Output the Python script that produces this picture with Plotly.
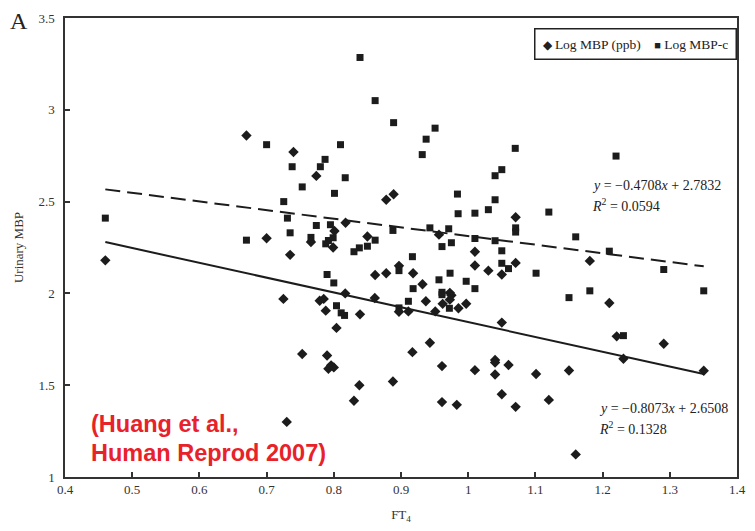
import plotly.graph_objects as go

# ---- data ----
ppb_x = [0.46, 0.67, 0.70, 0.74, 0.735, 0.725, 0.753, 0.73, 0.774, 0.889,
         0.878, 0.801, 0.8175, 0.766, 0.799, 0.850, 0.9565, 0.897, 0.8615, 0.878,
         0.918, 0.932, 0.817, 0.861, 0.779, 0.785, 0.937, 0.962, 0.788, 0.839,
         0.897, 0.911, 0.804, 0.790, 0.792, 0.796, 0.800, 0.838, 0.888, 0.917,
         0.83, 1.0706, 1.010, 1.010, 1.030, 1.0706, 1.050, 0.9727, 0.975, 0.9727,
         0.997, 0.9855, 0.951, 1.050, 0.943, 0.961, 1.010, 1.040, 1.040, 1.040,
         1.060, 1.101, 1.150, 0.961, 0.983, 1.050, 1.0706, 1.120, 1.160, 1.181,
         1.210, 1.221, 1.291, 1.231, 1.3505]
ppb_y = [2.18, 2.86, 2.30, 2.77, 2.21, 1.97, 1.67, 1.30, 2.64, 2.54,
         2.51, 2.34, 2.385, 2.28, 2.25, 2.31, 2.32, 2.15, 2.10, 2.11,
         2.11, 2.05, 2.00, 1.975, 1.96, 1.97, 1.957, 1.943, 1.906, 1.886,
         1.90, 1.902, 1.812, 1.662, 1.59, 1.608, 1.597, 1.50, 1.52, 1.68,
         1.415, 2.415, 2.227, 2.152, 2.124, 2.166, 2.103, 2.003, 1.99, 1.966,
         1.944, 1.919, 1.902, 1.841, 1.731, 1.604, 1.582, 1.637, 1.624, 1.558,
         1.61, 1.561, 1.58, 1.408, 1.393, 1.451, 1.382, 1.42, 1.123, 2.177,
         1.948, 1.766, 1.726, 1.644, 1.579]

mbpc_x = [0.46, 0.67, 0.70, 0.738, 0.753, 0.7255, 0.731, 0.735, 0.839, 0.8615,
          0.889, 0.810, 0.787, 0.780, 0.817, 0.801, 0.9374, 0.9316, 0.9507, 0.774,
          0.795, 0.766, 0.799, 0.792, 0.788, 0.8615, 0.850, 0.838, 0.830, 0.888,
          0.943, 0.961, 0.917, 0.897, 0.9565, 0.918, 0.961, 0.790, 0.800, 0.804,
          0.911, 0.897, 0.811, 0.816, 1.070, 1.050, 1.040, 0.984, 1.040, 0.985,
          1.010, 1.030, 1.120, 1.0706, 1.0706, 0.971, 0.975, 1.010, 1.040, 1.050,
          1.050, 1.060, 1.101, 0.973, 0.997, 1.010, 0.961, 1.150, 0.972, 1.160,
          1.210, 1.291, 1.181, 1.231, 1.3505, 1.220]
mbpc_y = [2.41, 2.29, 2.81, 2.69, 2.58, 2.50, 2.41, 2.33, 3.285, 3.05,
          2.93, 2.81, 2.73, 2.69, 2.63, 2.545, 2.84, 2.756, 2.90, 2.37,
          2.374, 2.305, 2.303, 2.288, 2.27, 2.29, 2.257, 2.248, 2.227, 2.343,
          2.357, 2.255, 2.20, 2.124, 2.074, 2.026, 2.006, 2.103, 2.057, 1.933,
          1.957, 1.921, 1.894, 1.88, 2.79, 2.674, 2.641, 2.541, 2.51, 2.434,
          2.437, 2.456, 2.443, 2.357, 2.334, 2.352, 2.276, 2.299, 2.287, 2.232,
          2.164, 2.135, 2.11, 2.11, 2.066, 2.026, 1.993, 1.977, 1.919, 2.308,
          2.23, 2.13, 2.014, 1.77, 2.014, 2.748]

series_names = ["Log MBP (ppb)", "Log MBP-c"]
legend_glyphs = ["\u25C6", "\u25A0"]
slopes = [-0.8073, -0.4708]
intercepts = [2.6508, 2.7832]
r2_values = [0.1328, 0.0594]

x_ticks = [0.4, 0.5, 0.6, 0.7, 0.8, 0.9, 1.0, 1.1, 1.2, 1.3, 1.4]
x_tick_labels = ["0.4", "0.5", "0.6", "0.7", "0.8", "0.9", "1", "1.1", "1.2", "1.3", "1.4"]
y_ticks = [1, 1.5, 2, 2.5, 3, 3.5]
y_tick_labels = ["1", "1.5", "2", "2.5", "3", "3.5"]

SERIF = "Liberation Serif, Times New Roman, serif"
INK = "#1c1c1c"

W, H = 755, 531
ml, mr, mt, mb = 65, 9, 18, 54
pw, ph = W - ml - mr, H - mt - mb


def px_to_paper(px, py):
    return (px - ml) / pw, 1 - (py - mt) / ph


fig = go.Figure()

fig.add_trace(go.Scatter(x=ppb_x, y=ppb_y, mode="markers", name=series_names[0],
                         marker=dict(symbol="diamond", size=8, color=INK), showlegend=False))
fig.add_trace(go.Scatter(x=mbpc_x, y=mbpc_y, mode="markers", name=series_names[1],
                         marker=dict(symbol="square", size=7, color=INK), showlegend=False))

all_x = ppb_x + mbpc_x
x0, x1 = min(all_x), max(all_x)
dashes = ["solid", "15px,7px"]
for s, b, d in zip(slopes, intercepts, dashes):
    fig.add_trace(go.Scatter(x=[x0, x1], y=[s * x0 + b, s * x1 + b], mode="lines",
                             line=dict(color=INK, width=2, dash=d),
                             showlegend=False, hoverinfo="skip"))


def eq_text(s, b):
    sign = "\u2212" if s < 0 else ""
    return f"<i>y</i> = {sign}{abs(s):.4f}<i>x</i> + {b:.4f}"


ann_font = dict(family=SERIF, size=14, color="#222")
# dashed-line (MBP-c) equation
fig.add_annotation(x=1.181, y=2.59, xref="x", yref="y", xanchor="left", yanchor="middle",
                   text=eq_text(slopes[1], intercepts[1]), showarrow=False, font=ann_font)
fig.add_annotation(x=1.181, y=2.48, xref="x", yref="y", xanchor="left", yanchor="middle",
                   text=f"<i>R</i><sup>2</sup> = {r2_values[1]:.4f}", showarrow=False, font=ann_font)
# solid-line (ppb) equation
fig.add_annotation(x=1.192, y=1.375, xref="x", yref="y", xanchor="left", yanchor="middle",
                   text=eq_text(slopes[0], intercepts[0]), showarrow=False, font=ann_font)
fig.add_annotation(x=1.192, y=1.265, xref="x", yref="y", xanchor="left", yanchor="middle",
                   text=f"<i>R</i><sup>2</sup> = {r2_values[0]:.4f}", showarrow=False, font=ann_font)

# legend box (boxed text, as in the reference)
glyph_sizes = [12, 11]
parts = [f"<span style='font-size:{gs}px'>{g}</span>\u00a0{n}"
         for g, gs, n in zip(legend_glyphs, glyph_sizes, series_names)]
legend_text = ("\u00a0" * 4).join(parts)
lx, ly = px_to_paper(746, 27.5)
fig.add_annotation(x=lx, y=ly, xref="paper", yref="paper", xanchor="right", yanchor="top",
                   text=legend_text, showarrow=False,
                   font=dict(family=SERIF, size=13.5, color="#222"),
                   bgcolor="white", bordercolor="#222", borderwidth=1.5, borderpad=7)

# citation
red_font = dict(family="Liberation Sans, Arial, sans-serif", size=23.5, color="#E8222A")
for txt, (px, py) in [("<b>(Huang et al.,</b>", (89, 424)),
                      ("<b>Human Reprod 2007)</b>", (89, 453))]:
    xp, yp = px_to_paper(px, py)
    fig.add_annotation(x=xp, y=yp, xref="paper", yref="paper", text=txt, showarrow=False,
                       font=red_font, xanchor="left", yanchor="middle")

# panel label
xp, yp = px_to_paper(18, 21)
fig.add_annotation(x=xp, y=yp, xref="paper", yref="paper", text="A", showarrow=False,
                   font=dict(family=SERIF, size=24, color="#222"),
                   xanchor="center", yanchor="middle")

axis_common = dict(showgrid=False, zeroline=False, showline=True, linecolor="#333",
                   linewidth=1.5, mirror=True, ticks="inside", ticklen=5, tickwidth=1.5,
                   tickcolor="#333", tickfont=dict(family=SERIF, size=13, color="#333"))

fig.update_xaxes(range=[0.4, 1.4], tickvals=x_ticks, ticktext=x_tick_labels,
                 title=dict(text="FT<sub>4</sub>", font=dict(family=SERIF, size=13, color="#333"),
                            standoff=14),
                 **axis_common)
fig.update_yaxes(range=[1, 3.5], tickvals=y_ticks, ticktext=y_tick_labels,
                 title=dict(text="Urinary MBP", font=dict(family=SERIF, size=13, color="#333"),
                            standoff=12),
                 ticklabelstandoff=6, **axis_common)

fig.update_layout(
    width=W, height=H,
    margin=dict(l=ml, r=mr, t=mt, b=mb),
    plot_bgcolor="white", paper_bgcolor="white",
    showlegend=False,
)

fig.write_html("out.html")
